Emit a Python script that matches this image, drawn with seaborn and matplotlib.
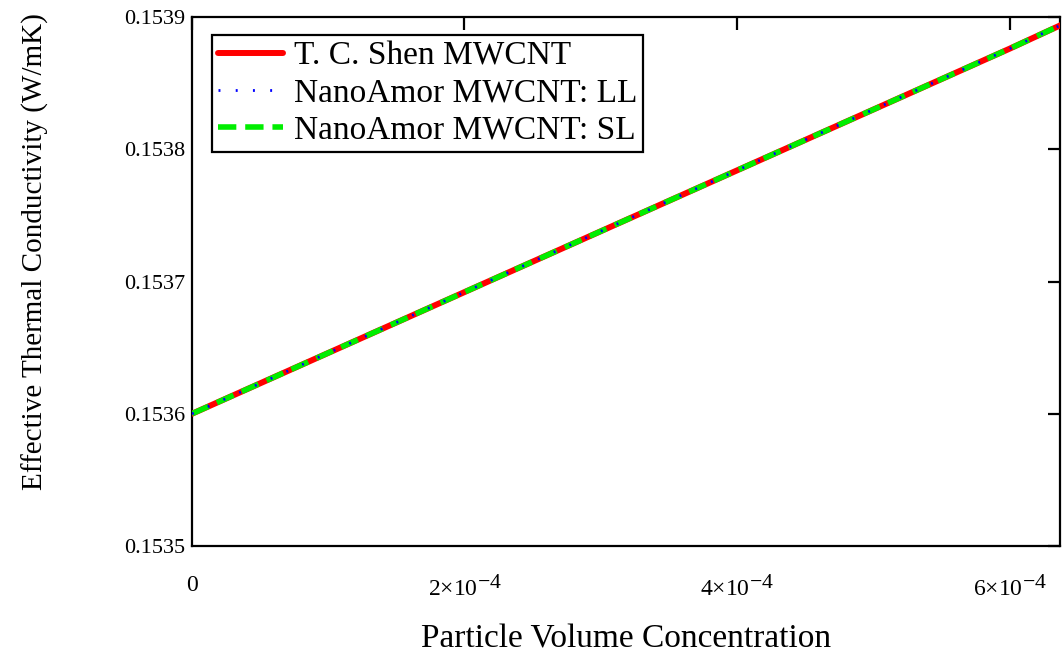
import numpy as np
import pandas as pd
import matplotlib
matplotlib.use("Agg")
import matplotlib.pyplot as plt
import matplotlib._mathtext as mathtext_impl
from matplotlib.ticker import FixedLocator, FuncFormatter
import seaborn as sns

# Particle volume concentration (fraction)
phi = [0.0, 1e-4, 2e-4, 3e-4, 4e-4, 5e-4, 6e-4, 6.4e-4]

# Effective thermal conductivity (W/mK) from each model
k_shen = [0.153600, 0.153646, 0.153692, 0.153738, 0.153784, 0.153830, 0.153876, 0.153895]
k_ll = [0.153600, 0.153646, 0.153692, 0.153738, 0.153784, 0.153830, 0.153876, 0.153895]
k_sl = [0.153600, 0.153646, 0.153692, 0.153738, 0.153784, 0.153830, 0.153876, 0.153895]

series_names = ["T. C. Shen MWCNT", "NanoAmor MWCNT: LL", "NanoAmor MWCNT: SL"]

x_ticks = [0.0, 2e-4, 4e-4, 6e-4]
y_ticks = [0.1535, 0.1536, 0.1537, 0.1538, 0.1539]

# keep exponents nearly full size in the power-of-ten tick labels
mathtext_impl.SHRINK_FACTOR = 0.92

sns.set_style("white")
plt.rcParams["font.family"] = ["Liberation Serif", "DejaVu Serif"]
plt.rcParams["mathtext.fontset"] = "custom"
plt.rcParams["mathtext.rm"] = "Liberation Serif"
plt.rcParams["mathtext.it"] = "Liberation Serif:italic"
plt.rcParams["mathtext.bf"] = "Liberation Serif:bold"
plt.rcParams["text.color"] = "black"
plt.rcParams["axes.labelcolor"] = "black"
plt.rcParams["xtick.color"] = "black"
plt.rcParams["ytick.color"] = "black"

fig = plt.figure(figsize=(10.63, 6.54), dpi=100)
ax = fig.add_axes([0.1806, 0.1651, 0.8165, 0.8089])

df = pd.DataFrame({"phi": phi, "shen": k_shen, "ll": k_ll, "sl": k_sl})

sns.lineplot(data=df, x="phi", y="shen", ax=ax, color="#ff0000", lw=4.3,
             label=series_names[0], zorder=3)
sns.lineplot(data=df, x="phi", y="ll", ax=ax, color="#0000ff", lw=2.0,
             linestyle=(0, (0.7, 5.5)), label=series_names[1], zorder=5)
sns.lineplot(data=df, x="phi", y="sl", ax=ax, color="#00ee00", lw=4.0,
             linestyle=(0, (3.3, 1.6)), label=series_names[2], zorder=4)

ax.set_xlim(0, 6.37e-4)
ax.set_ylim(0.1535, 0.1539)

ax.xaxis.set_major_locator(FixedLocator(x_ticks))
ax.yaxis.set_major_locator(FixedLocator(y_ticks))


def sci_label(v, pos):
    if v == 0:
        return "0"
    exp = int(np.floor(np.log10(abs(v)) + 1e-9))
    mant = v / 10 ** exp
    return r"$%d{\times}10^{-%d}$" % (round(mant), -exp)


ax.xaxis.set_major_formatter(FuncFormatter(sci_label))
ax.yaxis.set_major_formatter(FuncFormatter(lambda v, p: "%.4f" % v))

ax.tick_params(axis="both", direction="in", length=9, width=1.6,
               top=True, right=True, colors="black")
ax.tick_params(axis="x", pad=21, labelsize=17)
ax.tick_params(axis="y", pad=5, labelsize=16)

for sp in ax.spines.values():
    sp.set_visible(True)
    sp.set_color("black")
    sp.set_linewidth(1.6)

ax.set_xlabel("Particle Volume Concentration", fontsize=24, color="black")
ax.set_ylabel("Effective Thermal Conductivity (W/mK)", fontsize=21, color="black")
ax.xaxis.set_label_coords(0.5, -0.147)
ax.yaxis.set_label_coords(-0.165, 0.556)

leg = ax.legend(loc="upper left", bbox_to_anchor=(0.023, 0.966), fontsize=24,
                frameon=True, fancybox=False, framealpha=1, edgecolor="black",
                handlelength=1.95, handletextpad=0.33, labelspacing=0.2,
                borderpad=0.18, borderaxespad=0)
leg.get_frame().set_linewidth(1.6)
for t in leg.get_texts():
    t.set_color("black")

fig.savefig("out.png", dpi=100)
